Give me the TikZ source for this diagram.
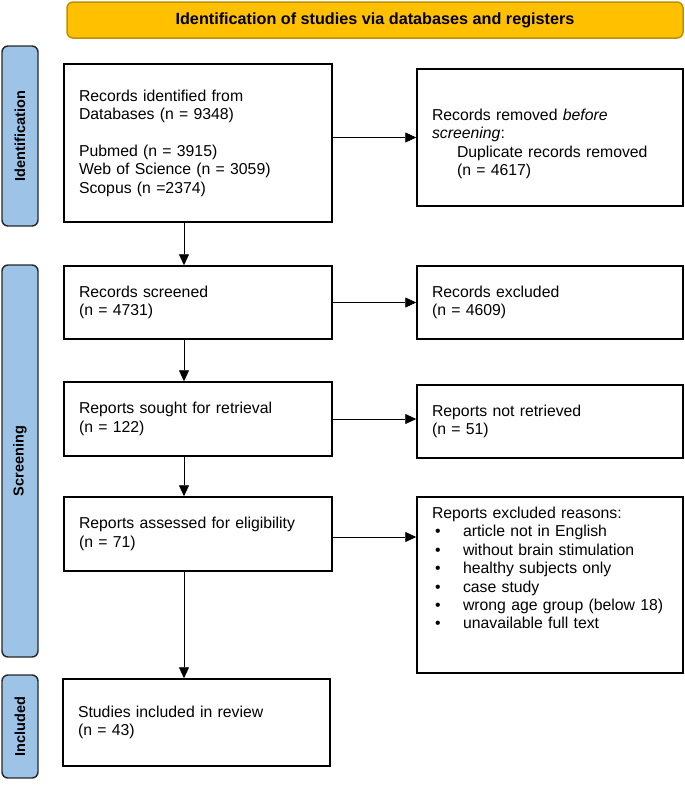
\documentclass[tikz,border=0pt]{standalone}
\usepackage{fontspec}
\setmainfont{Liberation Sans}
\usetikzlibrary{arrows.meta}
\definecolor{bannerfill}{HTML}{FFC000}
\definecolor{bannerdraw}{HTML}{BF9000}
\definecolor{sidefill}{HTML}{9DC3E6}
\definecolor{sidedraw}{HTML}{262626}
\begin{document}
\begin{tikzpicture}[x=1pt,y=-1pt,
  box/.style={draw, line width=1.5pt, align=left, inner xsep=15pt, inner ysep=0pt,
    font=\fontsize{15.8}{18.4}\selectfont},
  leftbox/.style={box, text width=238pt},
  rightbox/.style={box, text width=236pt},
  sidebar/.style={draw=sidedraw, fill=sidefill, line width=1.4pt, rounded corners=6pt,
    rotate=90, minimum height=36pt, inner sep=0pt,
    font=\bfseries\fontsize{14.5}{17}\selectfont},
  arr/.style={-{Triangle[length=11pt,width=10pt]}, line width=0.9pt}]
\useasboundingbox (0,0) rectangle (685,785);

\node[draw=bannerdraw, fill=bannerfill, line width=1.5pt, rounded corners=6pt,
  minimum width=616pt, minimum height=36pt, inner sep=0pt,
  font=\bfseries\fontsize{16.2}{18}\selectfont] (ban) at (375,20)
  {Identification of studies via databases and registers};

\node[sidebar, minimum width=180pt] (sid) at (20,136) {Identification};
\node[sidebar, minimum width=392pt] (sscr) at (20,461) {Screening};
\node[sidebar, minimum width=103pt] (sinc) at (20,726.5) {Included};

\node[leftbox, minimum height=158pt] (b1) at (198,143)
  {Records identified from\\ Databases (n = 9348)\\[18.4pt]
   Pubmed (n = 3915)\\ Web of Science (n = 3059)\\ Scopus (n =2374)};
\node[rightbox, minimum height=137pt] (rem) at (550,137.5)
  {\rule{0pt}{24pt}Records removed \textit{before}\\ \textit{screening}:\\
   \hspace*{25pt}Duplicate records removed\\ \hspace*{25pt}(n = 4617)};

\node[leftbox, minimum height=73pt] (scr) at (198,302.5)
  {Records screened\\ (n = 4731)};
\node[rightbox, minimum height=73pt] (exc) at (550,302.5)
  {Records excluded\\ (n = 4609)};

\node[leftbox, minimum height=74pt] (sought) at (198,419)
  {Reports sought for retrieval\\ (n = 122)};
\node[rightbox, minimum height=73pt] (notret) at (550,421.5)
  {Reports not retrieved\\ (n = 51)};

\node[leftbox, minimum height=74pt] (assess) at (198,534)
  {Reports assessed for eligibility\\ (n = 71)};
\node[rightbox, minimum height=176pt] (rexc) at (550,585)
  {Reports excluded reasons:\\
   \hspace*{3pt}\makebox[28pt][l]{\textbullet}article not in English\\
   \hspace*{3pt}\makebox[28pt][l]{\textbullet}without brain stimulation\\
   \hspace*{3pt}\makebox[28pt][l]{\textbullet}healthy subjects only\\
   \hspace*{3pt}\makebox[28pt][l]{\textbullet}case study\\
   \hspace*{3pt}\makebox[28pt][l]{\textbullet}wrong age group (below 18)\\
   \hspace*{3pt}\makebox[28pt][l]{\textbullet}unavailable full text\rule[-34pt]{0pt}{34pt}};

\node[box, text width=237pt, minimum height=87pt] (incl) at (196.5,722.5)
  {Studies included in review\\ (n = 43)};

\coordinate (ax) at (184,0);
\draw[arr] (b1.east |- rem.west) -- (rem.west);
\draw[arr] (scr.east) -- (exc.west);
\draw[arr] (sought.east) -- (sought.east -| notret.west);
\draw[arr] (assess.east |- 0,537) -- (notret.west |- 0,537);
\draw[arr] (b1.south -| ax) -- (scr.north -| ax);
\draw[arr] (scr.south -| ax) -- (sought.north -| ax);
\draw[arr] (sought.south -| ax) -- (assess.north -| ax);
\draw[arr] (assess.south -| ax) -- (incl.north -| ax);
\end{tikzpicture}
\end{document}
